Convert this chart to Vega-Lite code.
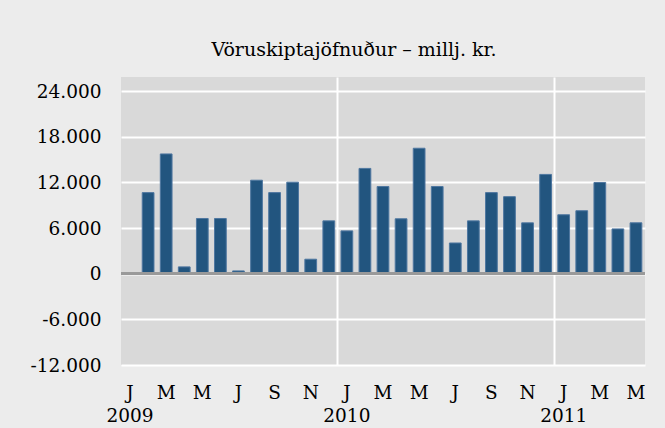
{
  "$schema": "https://vega.github.io/schema/vega-lite/v6.json",
  "width": 524,
  "height": 288,
  "autosize": {"type": "none"},
  "padding": {"left": 121, "top": 77, "right": 20, "bottom": 63},
  "background": "#ECECEC",
  "title": {
    "text": "Vöruskiptajöfnuður – millj.  kr.",
    "font": "DejaVu Serif",
    "fontSize": 19,
    "fontWeight": "normal",
    "color": "#000000",
    "anchor": "middle",
    "frame": "group",
    "dx": -29,
    "offset": 17
  },
  "data": {
    "values": [
      {"month": "2009-01", "value": 50},
      {"month": "2009-02", "value": 10650},
      {"month": "2009-03", "value": 15730},
      {"month": "2009-04", "value": 890},
      {"month": "2009-05", "value": 7250},
      {"month": "2009-06", "value": 7250},
      {"month": "2009-07", "value": 360},
      {"month": "2009-08", "value": 12280},
      {"month": "2009-09", "value": 10650},
      {"month": "2009-10", "value": 12020},
      {"month": "2009-11", "value": 1900},
      {"month": "2009-12", "value": 6940},
      {"month": "2010-01", "value": 5620},
      {"month": "2010-02", "value": 13830},
      {"month": "2010-03", "value": 11450},
      {"month": "2010-04", "value": 7210},
      {"month": "2010-05", "value": 16480},
      {"month": "2010-06", "value": 11450},
      {"month": "2010-07", "value": 4030},
      {"month": "2010-08", "value": 6940},
      {"month": "2010-09", "value": 10650},
      {"month": "2010-10", "value": 10120},
      {"month": "2010-11", "value": 6680},
      {"month": "2010-12", "value": 13040},
      {"month": "2011-01", "value": 7740},
      {"month": "2011-02", "value": 8270},
      {"month": "2011-03", "value": 11980},
      {"month": "2011-04", "value": 5880},
      {"month": "2011-05", "value": 6680}
    ]
  },
  "layer": [
    {
      "mark": {"type": "bar", "color": "#22557F", "stroke": "#4F77A0", "strokeWidth": 1},
      "encoding": {
        "x": {
          "field": "month",
          "type": "ordinal",
          "sort": null,
          "scale": {"paddingInner": 0.35, "paddingOuter": 0.175},
          "axis": {
            "title": null,
            "labelExpr": "substring(datum.value,5,7)=='01' ? ['J', substring(datum.value,0,4)] : (substring(datum.value,5,7)=='03' || substring(datum.value,5,7)=='05') ? 'M' : substring(datum.value,5,7)=='07' ? 'J' : substring(datum.value,5,7)=='09' ? 'S' : substring(datum.value,5,7)=='11' ? 'N' : ''",
            "labelAngle": 0,
            "labelOverlap": false,
            "labelFont": "DejaVu Serif",
            "labelFontSize": 18.5,
            "labelColor": "#000000",
            "labelPadding": 18,
            "labelLineHeight": 23,
            "bandPosition": -0.27,
            "ticks": false,
            "domain": false,
            "grid": true,
            "gridColor": "#FFFFFF",
            "gridWidth": 2,
            "gridOpacity": {"condition": {"test": "datum.value=='2010-01' || datum.value=='2011-01'", "value": 1}, "value": 0}
          }
        },
        "y": {
          "field": "value",
          "type": "quantitative",
          "scale": {"domain": [-12000, 25840], "nice": false, "zero": false},
          "axis": {
            "title": null,
            "values": [-12000, -6000, 0, 6000, 12000, 18000, 24000],
            "labelExpr": "(datum.value<0?'-':'') + replace(format(abs(datum.value), ',.0f'), ',', '.')",
            "labelFont": "DejaVu Serif",
            "labelFontSize": 18.5,
            "labelColor": "#000000",
            "labelPadding": 20,
            "ticks": false,
            "domain": false,
            "grid": true,
            "gridColor": "#FFFFFF",
            "gridWidth": 2,
            "gridOpacity": 1
          }
        }
      }
    },
    {
      "mark": {"type": "rule", "color": "#999999", "strokeWidth": 2.5},
      "encoding": {"y": {"datum": 0, "type": "quantitative"}}
    }
  ],
  "config": {
    "view": {"fill": "#D9D9D9", "stroke": null}
  }
}
